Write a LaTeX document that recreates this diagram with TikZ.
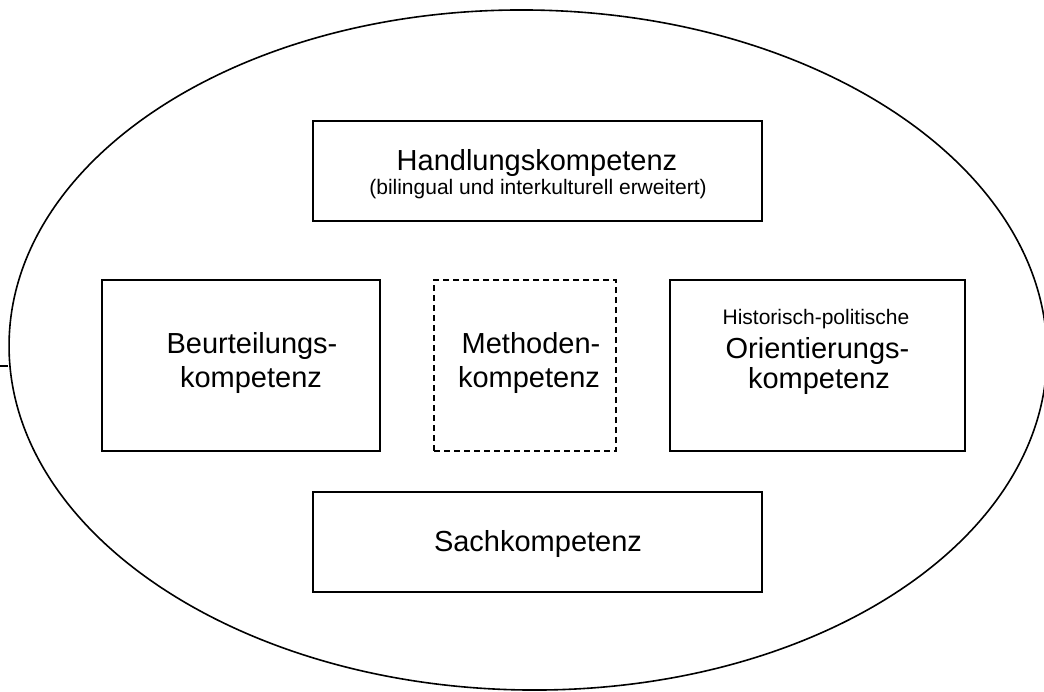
\documentclass[tikz,border=0pt]{standalone}
\usepackage{fontspec}
\setmainfont{Liberation Sans}
\usetikzlibrary{shapes.geometric}
\begin{document}
\begin{tikzpicture}[x=1pt,y=-1pt,
  frame/.style={draw, line width=1.6pt, rectangle, inner sep=0pt},
  big/.style={font=\fontsize{29}{33}\selectfont, anchor=base, inner sep=0pt},
  small/.style={font=\fontsize{21}{25}\selectfont, anchor=base, inner sep=0pt}]
\useasboundingbox (0,0) rectangle (1044,691);
\node[ellipse, draw, line width=1.6pt, minimum width=1038pt, minimum height=680pt,
      rotate=-0.8, inner sep=0pt] (E) at (528,350) {};
\coordinate (L) at (0,366);
\draw[line width=1.6pt] (L) -- (L -| E.west);
% boxes
\node[frame, minimum width=449pt, minimum height=100pt] (hk) at (537.5,171) {};
\node[frame, minimum width=278pt, minimum height=171pt] (bk) at (241,365.5) {};
\node[frame, dash pattern=on 6pt off 4pt, minimum width=182pt, minimum height=171pt] (mk) at (525,365.5) {};
\node[frame, minimum width=295pt, minimum height=171pt] (ok) at (817.5,365.5) {};
\node[frame, minimum width=449pt, minimum height=100pt] (sk) at (537.5,542) {};
% texts
\node[big] (hk1) at (537,170) {Handlungskompetenz};
\node[small] (hk2) at (538,194) {(bilingual und interkulturell erweitert)};
\node[big] (bk1) at (252,353) {Beurteilungs-};
\node[big] (bk2) at (251,387) {kompetenz};
\node[big] (mk1) at (531,353) {Methoden-};
\node[big] (mk2) at (529,387) {kompetenz};
\node[small] (ok1) at (816,324) {Historisch-politische};
\node[big] (ok2) at (817.5,358) {Orientierungs-};
\node[big] (ok3) at (819,388) {kompetenz};
\node[big] (sk1) at (538,551) {Sachkompetenz};
\end{tikzpicture}
\end{document}
